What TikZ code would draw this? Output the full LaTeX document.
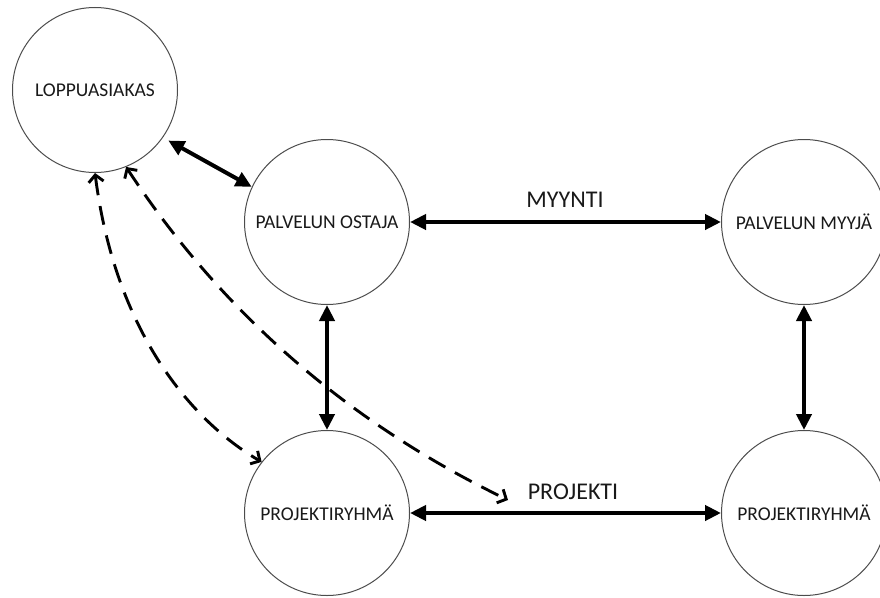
\documentclass[tikz,border=0pt]{standalone}
\usepackage{fontspec}
\setmainfont{Carlito}
\usetikzlibrary{arrows.meta}
\begin{document}
\begin{tikzpicture}[x=1pt,y=-1pt,
  entity/.style={circle,draw=black!70,line width=1pt,minimum size=165pt,inner sep=0pt,
    font=\fontsize{19.5}{21}\selectfont,text=black!90},
  solidlink/.style={line width=4pt,{Triangle[length=16pt,width=15pt]}-{Triangle[length=16pt,width=15pt]}},
  dashlink/.style={line width=2.9pt,dash pattern=on 19pt off 11pt,
    {Straight Barb[length=7pt,width=15pt]}-{Straight Barb[length=7pt,width=15pt]}},
  lbl/.style={font=\fontsize{24}{26}\selectfont,text=black!90}]
\useasboundingbox (0,0) rectangle (880,597);
\clip (0,0) rectangle (880,597);

\node[entity] (L)  at (95,90)   {LOPPUASIAKAS};
\node[entity] (O)  at (327,222) {PALVELUN OSTAJA};
\node[entity] (M)  at (804,222) {PALVELUN MYYJÄ};
\node[entity] (P1) at (327,513) {PROJEKTIRYHMÄ};
\node[entity] (P2) at (804,513) {PROJEKTIRYHMÄ};

\node[lbl] (myynti)   at (565,200) {MYYNTI};
\node[lbl] (projekti) at (573,492) {PROJEKTI};

\draw[solidlink, shorten <=6pt] (L.-35) -- (O.155);
\draw[solidlink] (O.east) -- (M.west);
\draw[solidlink] (O.south) -- (P1.north);
\draw[solidlink] (M.south) -- (P2.north);
\draw[solidlink] (P1.east) -- (P2.west);

\coordinate (dashend) at (508,500);
\draw[dashlink] (L.-90) .. controls (115,330) and (190,420) .. (P1.142);
\draw[dashlink] (L.-68) .. controls (222,313) and (349,423) .. (dashend);
\end{tikzpicture}
\end{document}
